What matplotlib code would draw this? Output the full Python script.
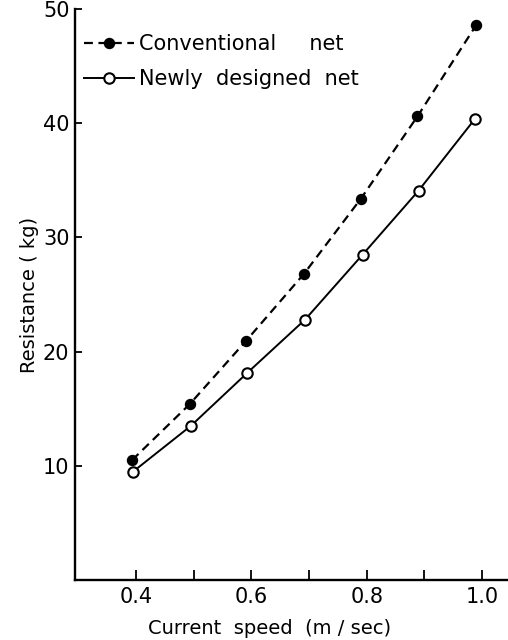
import matplotlib
matplotlib.use("Agg")
import matplotlib.pyplot as plt
from matplotlib.ticker import FixedLocator

plt.rcParams['font.family'] = ['DejaVu Sans']

# Data
speed_conv = [0.393, 0.493, 0.59, 0.691, 0.79, 0.888, 0.99]
res_conv = [10.5, 15.4, 20.9, 26.8, 33.4, 40.6, 48.6]
speed_new = [0.395, 0.495, 0.592, 0.693, 0.793, 0.89, 0.988]
res_new = [9.5, 13.5, 18.1, 22.8, 28.5, 34.1, 40.4]

xticks_major = [0.4, 0.6, 0.8, 1.0]
xtick_labels = ["0.4", "0.6", "0.8", "1.0"]
xticks_minor = [0.5, 0.7, 0.9]
yticks = [10, 20, 30, 40, 50]
ytick_labels = ["10", "20", "30", "40", "50"]

label_conv = "Conventional     net"
label_new = "Newly  designed  net"
xlabel = "Current  speed  (m / sec)"
ylabel = "Resistance ( kg)"

fig = plt.figure(figsize=(5.08, 6.40), dpi=100)
ax = fig.add_axes([75/508, 60/640, 433/508, 571/640])

ax.plot(speed_conv, res_conv, color='black', lw=1.6, dashes=(4, 2.5),
        marker='o', markersize=7.2, markerfacecolor='black',
        markeredgecolor='black', label=label_conv)
ax.plot(speed_new, res_new, color='black', lw=1.4, linestyle='-',
        marker='o', markersize=7.5, markerfacecolor='white',
        markeredgecolor='black', markeredgewidth=1.5, label=label_new)

ax.set_xlim(0.294, 1.045)
ax.set_ylim(0, 50)

ax.xaxis.set_major_locator(FixedLocator(xticks_major))
ax.set_xticklabels(xtick_labels)
ax.xaxis.set_minor_locator(FixedLocator(xticks_minor))
ax.set_yticks(yticks)
ax.set_yticklabels(ytick_labels)

ax.tick_params(axis='x', which='both', direction='in', length=7, width=1.3,
               labelsize=15, pad=5)
ax.tick_params(axis='y', which='both', direction='in', length=5, width=1.3,
               labelsize=15, pad=4)

for s in ['top', 'right']:
    ax.spines[s].set_visible(False)
for s in ['left', 'bottom']:
    ax.spines[s].set_linewidth(1.7)

ax.set_xlabel(xlabel, fontsize=14)
ax.xaxis.set_label_coords(0.45, -0.068)
ax.set_ylabel(ylabel, fontsize=14, labelpad=3)

leg = ax.legend(loc='upper left', bbox_to_anchor=(0.02, 0.956), frameon=False,
                fontsize=15, handlelength=2.4, handletextpad=0.25,
                borderpad=0, borderaxespad=0, labelspacing=0.72)

fig.savefig("out.png", dpi=100)
